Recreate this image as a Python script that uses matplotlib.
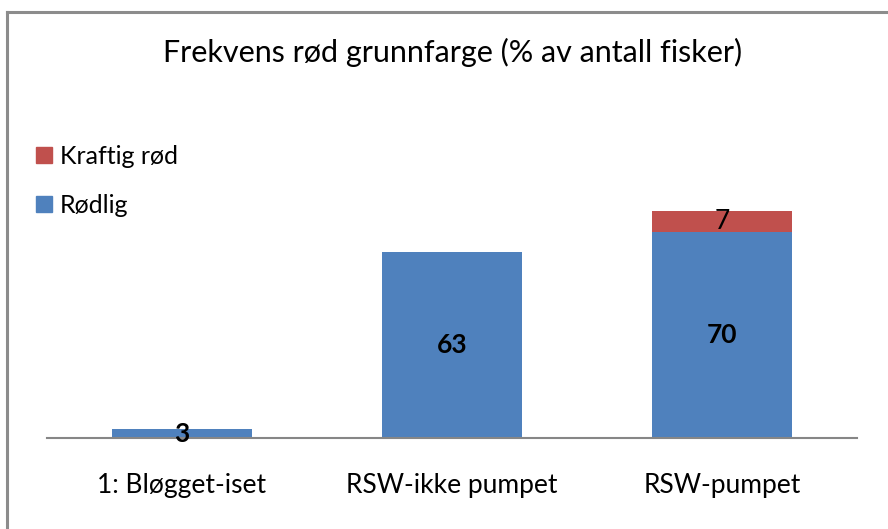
import matplotlib
matplotlib.use("Agg")
import matplotlib.pyplot as plt
from matplotlib.lines import Line2D
from matplotlib.patches import Patch

plt.rcParams["font.family"] = ["Lato", "DejaVu Sans"]

categories = ["1: Bløgget-iset", "RSW-ikke pumpet", "RSW-pumpet"]
rodlig = [3, 63, 70]
kraftig = [0, 0, 7]
series_names = ["Rødlig", "Kraftig rød"]
title = "Frekvens rød grunnfarge (% av antall fisker)"

BLUE = "#4F81BD"
RED = "#C0504D"
GRAY = "#868686"

W, H = 888, 529
fig = plt.figure(figsize=(W / 100, H / 100), dpi=100)

# outer border (only left/top visible in the original crop)
fig.add_artist(Line2D([6.5 / W, 6.5 / W], [0, 1 - 11.5 / H], transform=fig.transFigure,
                      color="#8c8c8c", lw=2.2))
fig.add_artist(Line2D([6.5 / W, 1], [1 - 11.5 / H, 1 - 11.5 / H], transform=fig.transFigure,
                      color="#8c8c8c", lw=2.2))

# plot area in pixels
x0, x1 = 47, 857
y_base = 438
ymax = 120
px_per_unit = 2.95
ax = fig.add_axes([x0 / W, (H - y_base) / H, (x1 - x0) / W, ymax * px_per_unit / H])

xs = range(len(categories))
ax.bar(xs, rodlig, width=0.515, color=BLUE, label=series_names[0])
ax.bar(xs, kraftig, width=0.515, bottom=rodlig, color=RED, label=series_names[1])

for i, v in enumerate(rodlig):
    ax.text(i, v / 2, str(v), ha="center", va="center", fontsize=19, fontweight="bold")
for i, v in enumerate(kraftig):
    if v:
        ax.text(i, rodlig[i] + v / 2, str(v), ha="center", va="center", fontsize=19)

ax.set_xlim(-0.5, 2.5)
ax.set_ylim(0, ymax)
for s in ["top", "right", "left"]:
    ax.spines[s].set_visible(False)
ax.spines["bottom"].set_color(GRAY)
ax.spines["bottom"].set_linewidth(1.5)
ax.set_yticks([])
ax.set_xticks(list(xs))
ax.set_xticklabels(categories, fontsize=19)
ax.tick_params(axis="x", length=0, pad=25)

fig.text(453 / W, 1 - 52 / H, title, ha="center", va="center", fontsize=22)

handles = [Patch(color=RED, label=series_names[1]), Patch(color=BLUE, label=series_names[0])]
fig.legend(handles=handles, loc="upper left", bbox_to_anchor=(36 / W, 1 - 145 / H),
           frameon=False, fontsize=18, handlelength=0.64, handleheight=0.64,
           handletextpad=0.3, labelspacing=1.03, borderpad=0, borderaxespad=0)

fig.savefig("out.png", dpi=100)
